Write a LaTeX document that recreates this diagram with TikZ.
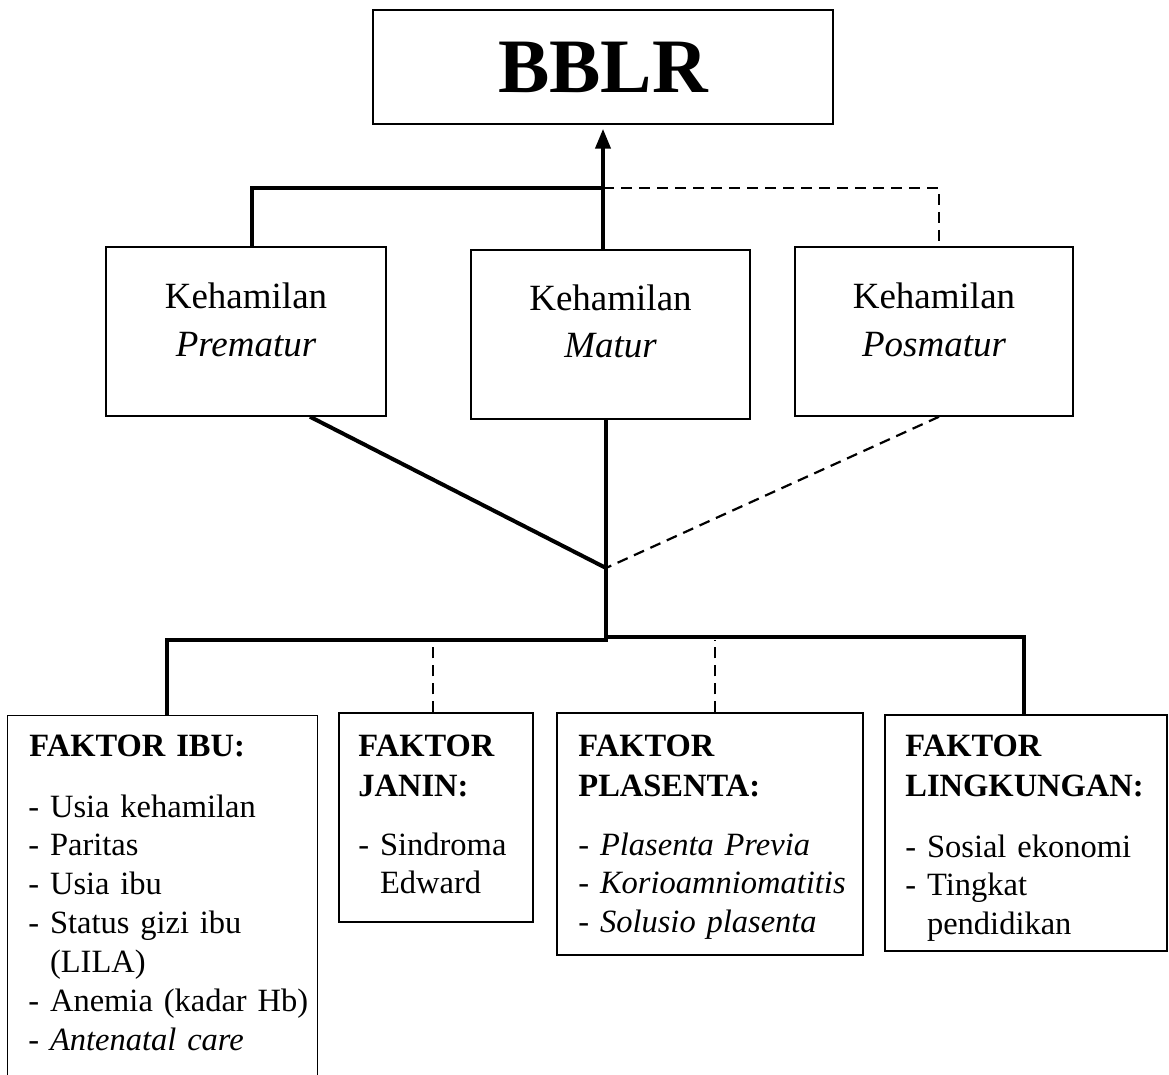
\documentclass[tikz,border=0pt]{standalone}
\usepackage{fontspec}
\setmainfont{Liberation Serif}
\usetikzlibrary{arrows.meta,fit,calc}
\begin{document}
\begin{tikzpicture}[x=0.5pt,y=-0.5pt,
  box/.style={draw, line width=0.75pt, inner sep=0pt},
  openbox/.style={inner sep=0pt},
  solidline/.style={line width=2pt},
  dashline/.style={line width=1.1pt, dash pattern=on 5.5pt off 3.5pt},
  titletxt/.style={font=\fontsize{38.5}{46}\selectfont\bfseries, inner sep=0pt, anchor=base},
  midtxt/.style={font=\fontsize{18.5}{24}\selectfont, inner sep=0pt, anchor=base},
  headtxt/.style={font=\fontsize{16.25}{20}\selectfont\bfseries, inner sep=0pt, anchor=base west, align=left, text width=160pt},
  listtxt/.style={font=\fontsize{16.25}{19.45}\selectfont, inner sep=0pt, anchor=base west, align=left, text width=160pt},
]
\useasboundingbox (0,0) rectangle (1169,1075);

% boxes
\node[box, fit={(373,10) (833,124)}] (bblr) {};
\node[box, fit={(106,247) (386,416)}] (prem) {};
\node[box, fit={(471,250) (750,419)}] (matur) {};
\node[box, fit={(795,247) (1073,416)}] (posm) {};
\node[openbox, fit={(8,716) (317,1076)}] (ibu) {};
\draw[line width=0.75pt] (ibu.south west) -- (ibu.north west) -- (ibu.north east) -- (ibu.south east);
\node[box, fit={(339,713) (533,922)}] (janin) {};
\node[box, fit={(557,713) (863,955)}] (plas) {};
\node[box, fit={(885,715) (1167,951)}] (ling) {};

% texts
\node[titletxt] (bblrT) at (603,93) {BBLR};
\node[midtxt] (premA) at (246,309) {Kehamilan};
\node[midtxt] (premB) at (246,357) {\itshape Prematur};
\node[midtxt] (maturA) at (610.5,311) {Kehamilan};
\node[midtxt] (maturB) at (610.5,358) {\itshape Matur};
\node[midtxt] (posmA) at (934,309) {Kehamilan};
\node[midtxt] (posmB) at (934,357) {\itshape Posmatur};

\node[headtxt] (ibuH) at (29,756) {FAKTOR IBU:};
\node[listtxt] (ibuL) at (28,817) {- Usia kehamilan\\- Paritas\\- Usia ibu\\- Status gizi ibu\\\phantom{-\ }(LILA)\\- Anemia (kadar Hb)\\- \textit{Antenatal care}};

\node[headtxt] (janinH) at (358,756) {FAKTOR\\JANIN:};
\node[listtxt] (janinL) at (358,855) {- Sindroma\\\phantom{-\ }Edward};

\node[headtxt] (plasH) at (578,756) {FAKTOR\\PLASENTA:};
\node[listtxt] (plasL) at (578,855) {- \textit{Plasenta Previa}\\- \textit{Korioamniomatitis}\\- \textit{Solusio plasenta}};

\node[headtxt] (lingH) at (905,756) {FAKTOR\\LINGKUNGAN:};
\node[listtxt] (lingL) at (905,857) {- Sosial ekonomi\\- Tingkat\\\phantom{-\ }pendidikan};

% junction coordinates
\coordinate (hubTop) at (603,188);
\coordinate (jA) at (606,568);
\coordinate (jB) at (606,640);
\coordinate (jC) at (606,637);

% upper connectors
\draw[solidline, -{Triangle[length=10pt,width=7.5pt]}, shorten >=2pt]
  ([xshift=-3.75pt]matur.north) -- ([xshift=-3.75pt]matur.north |- bblr.south);
\draw[solidline] ([xshift=3pt]prem.north) |- (hubTop);
\draw[dashline] (hubTop) -| ([xshift=2.5pt]posm.north);

% middle connectors
\draw[solidline] ([xshift=32pt]prem.south) -- (jA);
\draw[solidline] ([xshift=-2.25pt]matur.south) -- (jA);
\draw[dashline] ([xshift=2.5pt]posm.south) -- (jA);

% lower connectors
\draw[solidline] (jA) -- (jB) -| ([xshift=2.25pt]ibu.north);
\draw[solidline] (jC) -| ([xshift=-1pt]ling.north);
\draw[dashline] ([xshift=-1.5pt]janin.north) -- ([xshift=-1.5pt]janin.north |- jB);
\draw[dashline] ([xshift=2.5pt]plas.north) -- ([xshift=2.5pt]plas.north |- jB);
\end{tikzpicture}
\end{document}
